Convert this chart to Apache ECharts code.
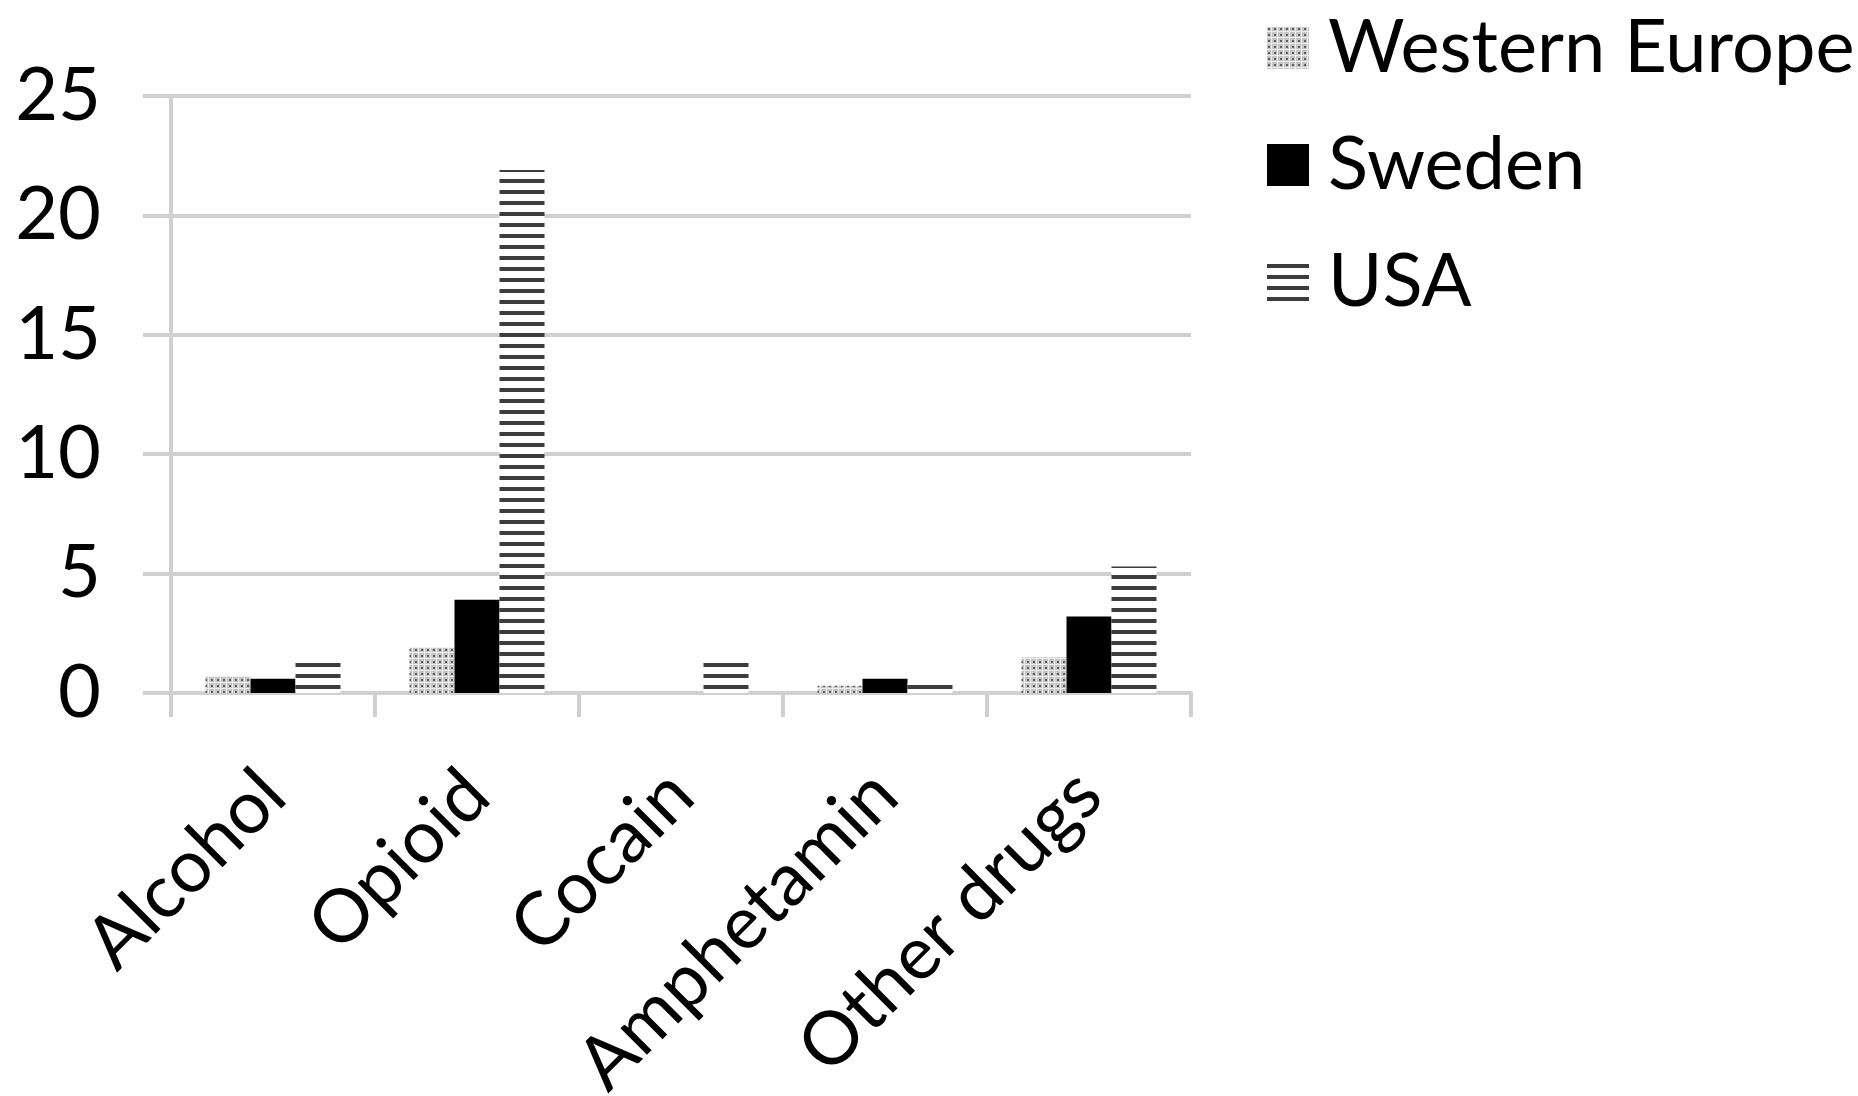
<!DOCTYPE html>
<html>
<head>
<meta charset="utf-8">
<style>
  html, body { margin: 0; padding: 0; background: #fff; }
  #chart { width: 1858px; height: 1096px; }
</style>
<script src="https://cdn.jsdelivr.net/npm/echarts@6/dist/echarts.min.js"></script>
</head>
<body>
<div id="chart"></div>
<script>
// Substance categories and rates per region
const categories = ['Alcohol', 'Opioid', 'Cocain', 'Amphetamin', 'Other drugs'];
const westernEurope = [0.7, 1.9, 0, 0.3, 1.5];
const sweden = [0.6, 3.9, 0, 0.6, 3.2];
const usa = [1.5, 21.9, 1.5, 0.4, 5.3];
const yTicks = { min: 0, max: 25, interval: 5 };

// Fill patterns drawn on small canvas tiles
function dottedTile() {
  const c = document.createElement('canvas');
  c.width = 6; c.height = 6;
  const g = c.getContext('2d');
  g.fillStyle = '#c4c4c4'; g.fillRect(0, 0, 6, 6);
  g.fillStyle = '#ededed'; g.fillRect(0, 4, 6, 1); g.fillRect(4, 0, 1, 6);
  g.fillStyle = '#5e5e5e'; g.fillRect(1, 1, 2, 2);
  return c;
}
function stripedTile() {
  const c = document.createElement('canvas');
  c.width = 8; c.height = 11;
  const g = c.getContext('2d');
  g.fillStyle = '#ffffff'; g.fillRect(0, 0, 8, 11);
  g.fillStyle = '#3c3c3c'; g.fillRect(0, 3, 8, 4);
  return c;
}

const font = 'Lato';
const fontSize = 74;

const chart = echarts.init(document.getElementById('chart'), null, { renderer: 'canvas' });
chart.setOption({
  backgroundColor: '#ffffff',
  animation: false,
  grid: { left: 171, right: 667, top: 96, bottom: 403, containLabel: false, outerBoundsMode: 'none' },
  legend: {
    orient: 'vertical',
    left: 1262,
    top: -3,
    itemWidth: 42,
    itemHeight: 42,
    itemGap: 25,
    icon: 'rect',
    textStyle: { fontFamily: font, fontSize: fontSize, color: '#000', lineHeight: 80, padding: [12, 0, 0, 14] },
    data: ['Western Europe', 'Sweden', 'USA']
  },
  xAxis: {
    type: 'category',
    data: categories,
    axisLine: { lineStyle: { color: '#d0d0d0', width: 4 } },
    axisTick: { show: true, length: 24, lineStyle: { color: '#d0d0d0', width: 4 } },
    axisLabel: { rotate: 45, margin: 90, fontFamily: font, fontSize: fontSize, color: '#000' }
  },
  yAxis: {
    type: 'value',
    min: yTicks.min,
    max: yTicks.max,
    interval: yTicks.interval,
    axisLine: { show: true, lineStyle: { color: '#d0d0d0', width: 4 } },
    axisTick: { show: true, length: 28, lineStyle: { color: '#d0d0d0', width: 4 } },
    splitLine: { lineStyle: { color: '#d0d0d0', width: 4 } },
    axisLabel: { margin: 70, fontFamily: font, fontSize: fontSize, color: '#000', padding: [14, 0, 0, 0] }
  },
  series: [
    { name: 'Western Europe', type: 'bar', data: westernEurope, barWidth: 45, barGap: '0%',
      itemStyle: { color: { image: dottedTile(), repeat: 'repeat' } } },
    { name: 'Sweden', type: 'bar', data: sweden, barWidth: 45, barGap: '0%',
      itemStyle: { color: '#000000' } },
    { name: 'USA', type: 'bar', data: usa, barWidth: 45, barGap: '0%',
      itemStyle: { color: { image: stripedTile(), repeat: 'repeat' } } }
  ]
});
</script>
</body>
</html>
